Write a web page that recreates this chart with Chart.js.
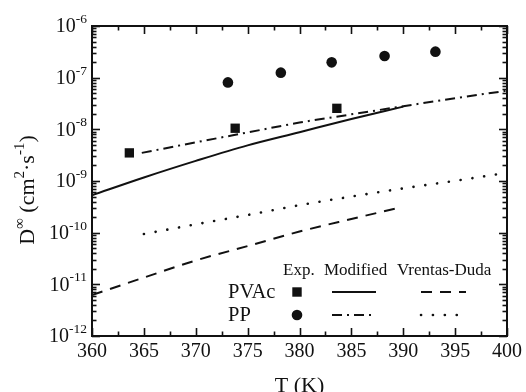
<!DOCTYPE html>
<html>
<head>
<meta charset="utf-8">
<script src="https://cdn.jsdelivr.net/npm/chart.js@4/dist/chart.umd.min.js"></script>
<style>
  html, body { margin: 0; padding: 0; background: #fff; }
  canvas { display: block; }
</style>
</head>
<body>
<canvas id="c" width="526" height="392"></canvas>
<script>
// Infinite-dilution diffusion coefficients D∞ (cm²/s) against temperature T (K)

// Experimental points
const pvacExpT = [363.6, 373.8, 383.6];
const pvacExpD = [3.5e-9, 1.05e-8, 2.55e-8];
const ppExpT = [373.1, 378.2, 383.1, 388.2, 393.1];
const ppExpD = [8.1e-8, 1.25e-7, 1.98e-7, 2.63e-7, 3.19e-7];

// Modified free-volume model
const pvacModT = [360, 365, 370, 375, 380, 385, 390];
const pvacModD = [5.3e-10, 1.17e-9, 2.45e-9, 4.9e-9, 8.8e-9, 1.58e-8, 2.75e-8];
const ppModT = [364.8, 370, 375, 380, 385, 390, 395, 400];
const ppModD = [3.5e-9, 5.6e-9, 8.7e-9, 1.35e-8, 1.95e-8, 2.8e-8, 4.0e-8, 5.6e-8];

// Vrentas-Duda model
const pvacVdT = [360, 365, 370, 375, 380, 385, 389.5];
const pvacVdD = [6.2e-12, 1.35e-11, 2.9e-11, 5.5e-11, 1.05e-10, 1.84e-10, 3.0e-10];
const ppVdT = [365, 370, 375, 380, 385, 390, 395, 400];
const ppVdD = [9.4e-11, 1.45e-10, 2.2e-10, 3.4e-10, 5.0e-10, 7.2e-10, 1.01e-9, 1.44e-9];

// Axis ticks
const xTicks = [360, 365, 370, 375, 380, 385, 390, 395, 400];
const yDecades = [-12, -11, -10, -9, -8, -7, -6];

// Legend text
const legendHeader = ['Exp.', 'Modified', 'Vrentas-Duda'];
const legendRows = ['PVAc', 'PP'];

const SERIF = '"Liberation Serif", "Times New Roman", serif';

function pts(xs, ys) { return xs.map((x, i) => ({ x: x, y: ys[i] })); }

const lineBase = {
  showLine: true, pointRadius: 0, borderColor: '#111', borderWidth: 2,
  backgroundColor: '#111', cubicInterpolationMode: 'monotone', fill: false
};

const DASHED = [11, 8];
const DASHDOT = [10, 5, 2, 5];
const DOTTED = [0.1, 11.8];

const datasets = [
  Object.assign({}, lineBase, { label: 'PVAc Modified', data: pts(pvacModT, pvacModD) }),
  Object.assign({}, lineBase, { label: 'PP Modified', data: pts(ppModT, ppModD), borderDash: DASHDOT }),
  Object.assign({}, lineBase, { label: 'PVAc Vrentas-Duda', data: pts(pvacVdT, pvacVdD), borderDash: DASHED }),
  Object.assign({}, lineBase, { label: 'PP Vrentas-Duda', data: pts(ppVdT, ppVdD), borderDash: DOTTED, borderCapStyle: 'round', borderWidth: 2.6 }),
  { label: 'PVAc Exp.', data: pts(pvacExpT, pvacExpD), showLine: false, pointStyle: 'rect',
    pointRadius: 6.6, backgroundColor: '#111', borderColor: '#111', borderWidth: 0 },
  { label: 'PP Exp.', data: pts(ppExpT, ppExpD), showLine: false, pointStyle: 'circle',
    pointRadius: 5.3, backgroundColor: '#111', borderColor: '#111', borderWidth: 0 }
];

// Frame, inward ticks, tick labels, axis titles and the legend table
const framePlugin = {
  id: 'frame',
  afterDraw(chart) {
    const ctx = chart.ctx;
    const a = chart.chartArea;
    const xs = chart.scales.x, ys = chart.scales.y;
    ctx.save();
    ctx.strokeStyle = '#111';
    ctx.fillStyle = '#111';

    // ticks
    ctx.lineWidth = 1.6;
    const tick = (x1, y1, x2, y2) => { ctx.beginPath(); ctx.moveTo(x1, y1); ctx.lineTo(x2, y2); ctx.stroke(); };
    for (let t = 360; t <= 400; t += 2.5) {
      const px = Math.round(xs.getPixelForValue(t)) + 0.5;
      const major = Math.abs(t % 5) < 1e-6;
      const len = major ? 8 : 4.5;
      tick(px, a.bottom, px, a.bottom - len);
      tick(px, a.top, px, a.top + len);
    }
    for (const e of yDecades) {
      for (let m = 1; m <= 9; m++) {
        if (e === -6 && m > 1) break;
        const py = Math.round(ys.getPixelForValue(m * Math.pow(10, e))) + 0.5;
        const len = m === 1 ? 8 : 4.5;
        tick(a.left, py, a.left + len, py);
        tick(a.right, py, a.right - len, py);
      }
    }

    // frame
    ctx.lineWidth = 2;
    ctx.strokeRect(a.left, a.top, a.right - a.left, a.bottom - a.top);

    // x tick labels
    ctx.font = '20px ' + SERIF;
    ctx.textAlign = 'center';
    ctx.textBaseline = 'alphabetic';
    for (const t of xTicks) ctx.fillText(String(t), xs.getPixelForValue(t), 357);

    // y tick labels: 10 with superscript exponent
    for (const e of yDecades) {
      const py = ys.getPixelForValue(Math.pow(10, e));
      ctx.font = '13.5px ' + SERIF;
      const sup = String(e);
      const sw = ctx.measureText(sup).width;
      ctx.textAlign = 'left';
      ctx.textBaseline = 'alphabetic';
      ctx.fillText(sup, 87 - sw, py - 3);
      ctx.font = '20px ' + SERIF;
      ctx.textAlign = 'right';
      ctx.textBaseline = 'middle';
      ctx.fillText('10', 87 - sw, py + 1);
    }

    // x title
    ctx.font = '22px ' + SERIF;
    ctx.textAlign = 'center';
    ctx.textBaseline = 'alphabetic';
    ctx.fillText('T (K)', (a.left + a.right) / 2, 392);

    // y title, rotated, with superscripts
    const parts = [
      ['D', false], ['\u221E', true], [' (cm', false], ['2', true],
      ['\u00B7s', false], ['-1', true], [')', false]
    ];
    const big = '22px ' + SERIF, small = '15px ' + SERIF;
    let total = 0;
    for (const [s, sp] of parts) { ctx.font = sp ? small : big; total += ctx.measureText(s).width; }
    ctx.translate(34, 190);
    ctx.rotate(-Math.PI / 2);
    let cx = -total / 2;
    ctx.textAlign = 'left';
    for (const [s, sp] of parts) {
      ctx.font = sp ? small : big;
      ctx.fillText(s, cx, sp ? -10 : 0);
      cx += ctx.measureText(s).width;
    }
    ctx.setTransform(1, 0, 0, 1, 0, 0);

    // legend table
    ctx.textAlign = 'left';
    ctx.textBaseline = 'alphabetic';
    ctx.font = '17px ' + SERIF;
    ctx.fillText(legendHeader[0], 283, 275);
    ctx.fillText(legendHeader[1], 324, 275);
    ctx.fillText(legendHeader[2], 397, 275);
    ctx.font = '20.5px ' + SERIF;
    ctx.fillText(legendRows[0], 228, 298);
    ctx.fillText(legendRows[1], 228, 321);

    // legend marks
    ctx.fillRect(297 - 4.7, 292 - 4.7, 9.4, 9.4);
    ctx.beginPath(); ctx.arc(297, 315, 5.3, 0, Math.PI * 2); ctx.fill();
    const sample = (x1, x2, y, dash, cap, w) => {
      ctx.save();
      ctx.lineWidth = w || 2;
      ctx.lineCap = cap || 'butt';
      ctx.setLineDash(dash);
      ctx.beginPath(); ctx.moveTo(x1, y); ctx.lineTo(x2, y); ctx.stroke();
      ctx.restore();
    };
    sample(332, 376, 292, []);
    sample(421, 466, 292, DASHED);
    sample(332, 376, 315, DASHDOT);
    sample(421, 466, 315, DOTTED, 'round', 2.6);

    ctx.restore();
  }
};

new Chart(document.getElementById('c'), {
  type: 'scatter',
  data: { datasets: datasets },
  options: {
    responsive: false,
    animation: false,
    devicePixelRatio: 1,
    layout: { padding: { left: 92, top: 26, right: 19, bottom: 56 } },
    plugins: { legend: { display: false }, tooltip: { enabled: false } },
    scales: {
      x: { type: 'linear', min: 360, max: 400, display: false },
      y: { type: 'logarithmic', min: 1e-12, max: 1e-6, display: false }
    }
  },
  plugins: [framePlugin]
});
</script>
</body>
</html>
